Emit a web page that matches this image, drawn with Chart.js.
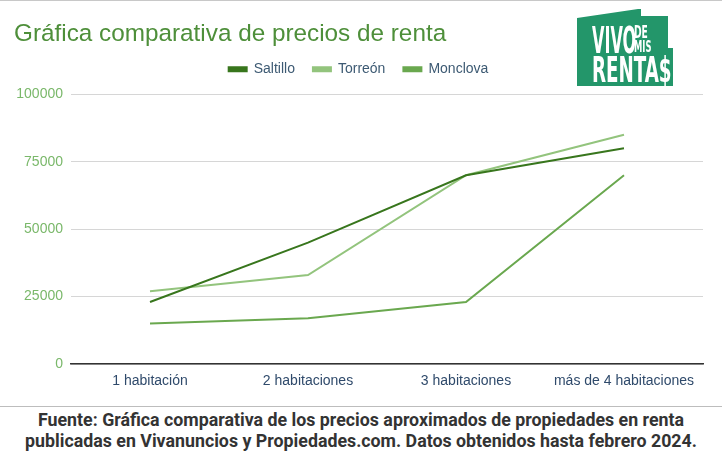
<!DOCTYPE html>
<html>
<head>
<meta charset="utf-8">
<script src="https://cdn.jsdelivr.net/npm/chart.js@4.4.0/dist/chart.umd.min.js"></script>
<style>
  html, body { margin: 0; padding: 0; background: #fff; }
  body { width: 722px; height: 451px; position: relative; overflow: hidden; border-top: 1px solid #c8c8c8; box-sizing: border-box; }
  #wrap { position: absolute; left: 0; top: 0; width: 722px; height: 405px; }
  #footer {
    position: absolute; left: 0; top: 405px; width: 722px; height: 46px;
    border-top: 1px solid #bdbdbd; box-sizing: border-box;
    font-family: Roboto, "Liberation Sans", sans-serif; font-weight: bold;
    font-size: 17.8px; line-height: 21px; color: #333; text-align: center; padding-top: 2px;
    white-space: nowrap;
  }
  #logo { position: absolute; left: 0; top: 0; width: 722px; height: 100px; pointer-events: none; }
  .house {
    position: absolute; left: 0; top: 0; width: 722px; height: 100px; background: #23966a;
    clip-path: polygon(577px 17px, 638px 8px, 641px 8px, 641px 15px, 668px 15px, 668px 47px, 673px 47px, 673px 85px, 577px 85px);
  }
  .lt { position: absolute; color: #fff; font-family: "Liberation Sans Narrow", "DejaVu Sans Condensed", sans-serif; font-weight: bold; line-height: 1; transform-origin: 0 0; white-space: nowrap; }
</style>
</head>
<body>
<div id="wrap"><canvas id="chart" width="722" height="405"></canvas></div>
<div id="logo">
  <div class="house"></div>
  <div class="lt" style="left:592px; top:20px; font-size:38px; transform:scaleX(0.47);">VIVO</div>
  <div class="lt" style="left:634px; top:23px; font-size:17px; transform:scaleX(0.6);">DE</div>
  <div class="lt" style="left:634px; top:38px; font-size:16px; transform:scaleX(0.58);">MIS</div>
  <div class="lt" style="left:592px; top:52px; font-size:35px; transform:scaleX(0.58);">RENTA$</div>
</div>
<div id="footer">Fuente: Gráfica comparativa de los precios aproximados de propiedades en renta<br>publicadas en Vivanuncios y Propiedades.com. Datos obtenidos hasta febrero 2024.</div>
<script>
const categories = ["1 habitación", "2 habitaciones", "3 habitaciones", "más de 4 habitaciones"];
const saltillo = [23000, 45000, 70000, 80000];
const torreon = [27000, 33000, 70000, 85000];
const monclova = [15000, 17000, 23000, 70000];
const yTicks = [0, 25000, 50000, 75000, 100000];

const fontFamily = '"Liberation Sans", Arial, sans-serif';

function series(label, data, color) {
    return {
        label: label,
        data: data,
        borderColor: color,
        backgroundColor: color,
        borderWidth: 2,
        pointRadius: 0,
        tension: 0,
    };
}

// extra room under the legend
const legendMargin = {
    id: "legendMargin",
    beforeInit(chart) {
        const fit = chart.legend.fit;
        chart.legend.fit = function () {
            fit.bind(chart.legend)();
            this.height += 8;
        };
    },
};

new Chart(document.getElementById("chart"), {
    type: "line",
    data: {
        labels: categories,
        datasets: [
            series("Saltillo", saltillo, "#38761d"),
            series("Torreón", torreon, "#93c47d"),
            series("Monclova", monclova, "#6aa84f"),
        ],
    },
    plugins: [legendMargin],
    options: {
        responsive: false,
        animation: false,
        layout: { padding: { left: 14, right: 19, top: 0, bottom: 0 } },
        plugins: {
            title: {
                display: true,
                text: "Gráfica comparativa de precios de renta",
                align: "start",
                color: "#4e8f3a",
                font: { family: fontFamily, size: 24.3, weight: "normal", lineHeight: 1 },
                padding: { top: 21, bottom: -2 },
            },
            legend: {
                position: "top",
                labels: {
                    boxWidth: 18,
                    boxHeight: 4,
                    padding: 18,
                    color: "#3d5a73",
                    font: { family: fontFamily, size: 14 },
                },
            },
            tooltip: { enabled: false },
        },
        scales: {
            x: {
                offset: true,
                afterFit: (scale) => { scale.height = 42; },
                grid: { display: false, drawTicks: false },
                border: { color: "#333", width: 1.5 },
                ticks: {
                    color: "#2f4a6b",
                    padding: 9,
                    maxRotation: 0,
                    font: { family: fontFamily, size: 14 },
                },
            },
            y: {
                min: 0,
                max: 100000,
                afterFit: (scale) => { scale.width = 57; },
                afterBuildTicks: (scale) => { scale.ticks = yTicks.map(v => ({ value: v })); },
                grid: { color: "#d6d6d6", drawTicks: false },
                border: { display: false },
                ticks: {
                    color: "#7ab86a",
                    padding: 8,
                    font: { family: fontFamily, size: 14 },
                    callback: (v) => String(v),
                },
            },
        },
    },
});
</script>
</body>
</html>
